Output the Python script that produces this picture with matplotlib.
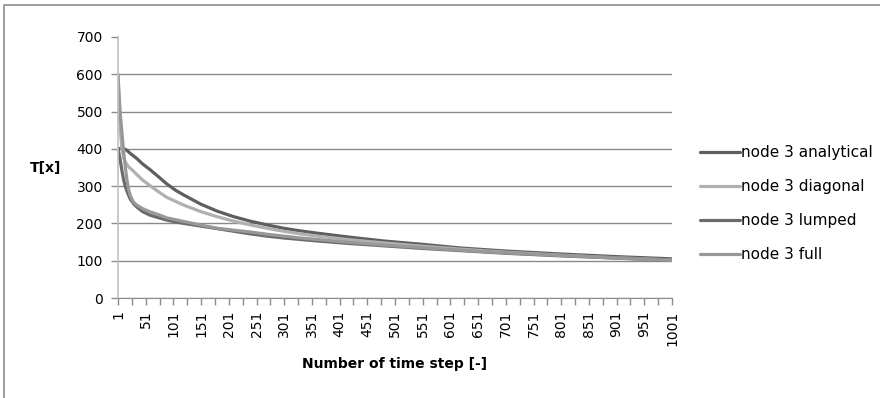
import matplotlib
matplotlib.use("Agg")
import matplotlib.pyplot as plt
from matplotlib.patches import Rectangle

steps = [1, 3, 5, 8, 11, 14, 17, 20, 23, 29, 35, 45, 59, 75, 89, 105, 120, 150, 180, 210,
         240, 270, 300, 330, 360, 420, 480, 550, 620, 700, 800, 900, 1001]
analytical = [400, 401, 401, 401, 400, 399, 396, 392, 388, 381, 374, 360, 344, 324, 306, 289, 276, 252, 233, 218,
              206, 196, 187, 180, 174, 163, 153, 144, 134, 126, 118, 111, 105]
diagonal = [600, 520, 455, 400, 376, 366, 358, 352, 348, 340, 331, 317, 301, 284, 270, 259, 249, 232, 218, 206,
            196, 187, 179, 172, 166, 156, 148, 139, 131, 123, 115, 108, 102]
lumped = [400, 385, 370, 342, 318, 300, 287, 276, 266, 253, 244, 232, 222, 215, 209, 204, 200, 193, 186, 179,
          172, 166, 161, 157, 153, 146, 140, 133, 127, 120, 113, 107, 101]
full = [600, 545, 495, 445, 395, 353, 318, 292, 275, 257, 249, 240, 231, 223, 215, 210, 205, 196, 187, 182,
        177, 171, 166, 161, 157, 149, 142, 135, 128, 121, 114, 107, 101]

series_names = ["node 3 analytical", "node 3 diagonal", "node 3 lumped", "node 3 full"]
x_tick_labels = [str(v) for v in range(1, 1002, 50)]
y_ticks = [0, 100, 200, 300, 400, 500, 600, 700]

plt.rcParams['font.family'] = ['DejaVu Sans']

fig = plt.figure(figsize=(8.8, 3.98), dpi=100)
# chart border
fig.patches.append(Rectangle((4/880, -0.1), 1.2, 1 - 5/398 + 0.1, transform=fig.transFigure,
                             fill=False, edgecolor='#8c8c8c', linewidth=1.2))

ax = fig.add_axes([118/880, 1 - 298/398, 554/880, 261/398])

colors = ['#5e5e5e', '#b0b0b0', '#6a6a6a', '#989898']
data = [analytical, diagonal, lumped, full]
for name, vals, c in zip(series_names, data, colors):
    ax.plot(steps, vals, color=c, linewidth=2.3, label=name, solid_capstyle='round')

ax.set_xlim(1, 1001)
ax.set_ylim(0, 700)
ax.set_yticks(y_ticks)
ax.set_yticklabels([str(v) for v in y_ticks], fontsize=10)
ax.set_xticks(list(range(1, 1002, 50)))
ax.set_xticklabels(x_tick_labels, rotation=90, fontsize=10)
ax.set_xticks(list(range(26, 1002, 50)), minor=True)
ax.tick_params(axis='x', which='both', direction='out', length=5, color='#8c8c8c', width=1, pad=4)
ax.tick_params(axis='y', direction='out', length=5, color='#8c8c8c', width=1, pad=6)

ax.grid(axis='y', color='#8a8a8a', linewidth=1)
ax.set_axisbelow(True)
gl = ax.yaxis.get_gridlines()
gl[-1].set_visible(False)

for s in ['top', 'right']:
    ax.spines[s].set_visible(False)
ax.spines['left'].set_color('#c0c0c0')
ax.spines['left'].set_linewidth(1.2)
ax.spines['bottom'].set_color('#8c8c8c')

ax.set_xlabel("Number of time step [-]", fontsize=10, fontweight='bold', labelpad=8)
ax.set_ylabel("T[x]", fontsize=10, fontweight='bold', rotation=0, labelpad=22, va='center')

leg = ax.legend(loc='center left', bbox_to_anchor=(694/880, 1 - 203.5/398), bbox_transform=fig.transFigure,
                frameon=False, fontsize=11, handlelength=2.6, handletextpad=0.1, labelspacing=1.25,
                borderaxespad=0)

fig.savefig("out.png", dpi=100)
